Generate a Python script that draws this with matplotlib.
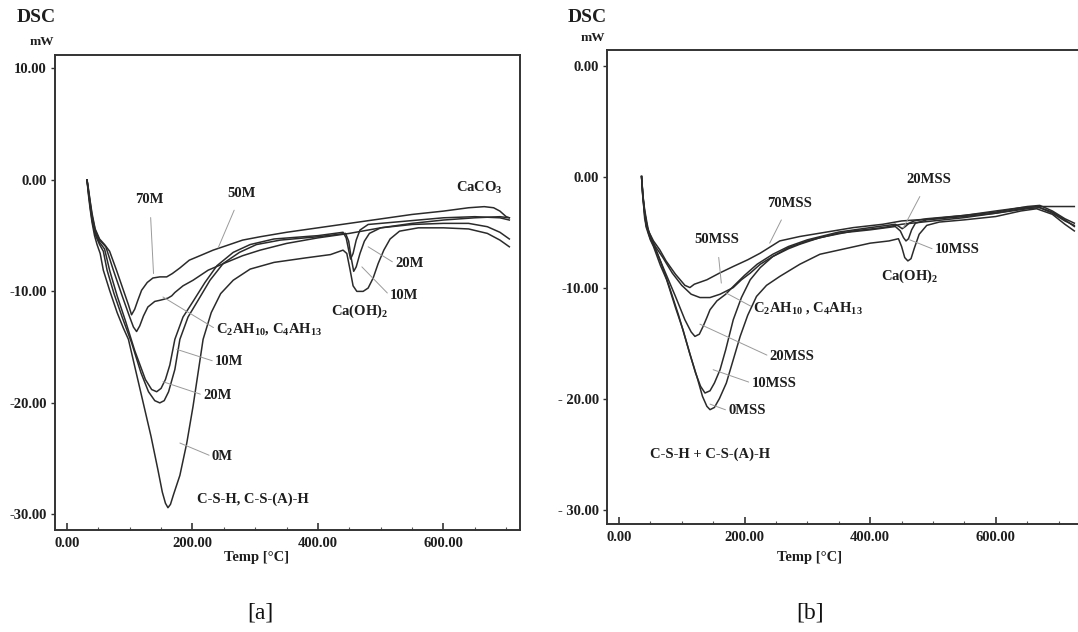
import matplotlib
matplotlib.use("Agg")
import matplotlib.pyplot as plt
from matplotlib.ticker import FixedLocator, MultipleLocator

plt.rcParams['font.family'] = ['Liberation Serif', 'DejaVu Serif']
plt.rcParams['font.weight'] = 'bold'
plt.rcParams['mathtext.fontset'] = 'custom'
plt.rcParams['mathtext.rm'] = 'Liberation Serif:bold'
plt.rcParams['mathtext.it'] = 'Liberation Serif:bold'
plt.rcParams['mathtext.bf'] = 'Liberation Serif:bold'

# ---------------- panel [a] : temperature (C), heat flow (mW) ----------------
t_0M = [32, 34, 37, 40, 44, 48, 53, 58, 68, 80, 90, 98, 110, 122, 134, 145, 152, 157, 161, 165, 170,
        180, 191, 201, 217, 230, 245, 265, 292, 330, 380, 420, 440, 446, 451, 456, 462, 472, 480,
        488, 496, 505, 515, 530, 560, 600, 640, 670, 690, 705]
dsc_0M = [0, -1.2, -2.6, -3.8, -5.0, -5.8, -6.6, -8.1, -9.9, -11.9, -13.3, -14.3, -17.2, -20.1, -23.0,
          -26.0, -28.0, -29.0, -29.4, -29.1, -28.2, -26.5, -23.6, -20.3, -14.3, -11.9, -10.2, -9.0,
          -8.0, -7.4, -7.0, -6.7, -6.3, -6.6, -8.0, -9.5, -10.0, -10.0, -9.7, -8.8, -7.5, -6.3, -5.3,
          -4.6, -4.3, -4.3, -4.4, -4.8, -5.4, -6.0]

t_10M = [32, 34, 37, 40, 45, 52, 58, 64, 75, 88, 103, 118, 130, 140, 148, 155, 162, 168, 172, 180,
         193, 209, 228, 249, 275, 302, 340, 400, 430, 444, 449, 453, 457, 461, 467, 474, 482, 500,
         550, 600, 640, 670, 690, 705]
dsc_10M = [0, -1.0, -2.4, -3.6, -4.9, -5.8, -6.4, -8.1, -10.2, -12.3, -14.6, -17.3, -19.0, -19.8, -20.0,
           -19.8, -19.0, -17.8, -17.0, -14.3, -12.3, -10.8, -9.0, -7.5, -6.5, -5.8, -5.4, -5.1, -4.9,
           -4.8, -5.5, -7.0, -8.2, -7.8, -6.6, -5.5, -4.8, -4.3, -4.0, -3.9, -3.9, -4.2, -4.7, -5.3]

t_20M = [32, 34, 37, 40, 45, 52, 60, 68, 80, 93, 108, 125, 135, 143, 150, 157, 164, 172, 185, 201,
         220, 239, 265, 292, 330, 400, 440, 445, 449, 452, 456, 461, 467, 480, 520, 560, 600, 650,
         690, 705]
dsc_20M = [0, -0.9, -2.2, -3.4, -4.7, -5.6, -6.2, -8.1, -10.4, -12.6, -15.3, -17.9, -18.8, -19.0, -18.7,
           -17.9, -16.6, -14.3, -12.3, -10.9, -9.2, -7.7, -6.5, -5.8, -5.3, -5.0, -4.7, -5.2, -6.3,
           -7.1, -6.6, -5.4, -4.5, -4.0, -3.8, -3.6, -3.4, -3.3, -3.4, -3.6]

t_50M = [32, 34, 37, 40, 45, 52, 62, 74, 88, 100, 106, 111, 116, 122, 129, 140, 148, 155, 161, 167,
         172, 185, 201, 225, 254, 280, 308, 350, 400, 450, 500, 550, 600, 650, 690, 705]
dsc_50M = [0, -0.8, -2.0, -3.2, -4.5, -5.4, -6.0, -8.1, -10.4, -12.3, -13.2, -13.6, -13.1, -12.2, -11.4,
           -10.9, -10.8, -10.7, -10.6, -10.4, -10.1, -9.5, -9.0, -8.1, -7.4, -6.8, -6.3, -5.7, -5.2,
           -4.8, -4.3, -3.9, -3.6, -3.4, -3.3, -3.4]

t_70M = [32, 34, 37, 40, 45, 52, 60, 68, 79, 90, 98, 103, 108, 113, 119, 128, 137, 148, 159, 168,
         180, 195, 212, 233, 254, 280, 308, 350, 400, 450, 500, 550, 600, 640, 665, 680, 690, 700, 705]
dsc_70M = [0, -0.7, -1.9, -3.0, -4.4, -5.3, -5.8, -6.4, -8.1, -9.9, -11.2, -12.1, -11.6, -10.8, -9.9,
           -9.2, -8.8, -8.7, -8.7, -8.4, -7.9, -7.2, -6.8, -6.3, -5.9, -5.4, -5.1, -4.7, -4.3, -3.9,
           -3.5, -3.1, -2.8, -2.5, -2.4, -2.5, -2.8, -3.3, -3.4]

# ---------------- panel [b] ----------------
t_0MSS = [36, 38, 40, 43, 50, 55, 66, 76, 90, 102, 113, 124, 133, 140, 145, 152, 160, 171, 182, 193,
          205, 219, 235, 256, 288, 320, 360, 400, 430, 445, 450, 455, 460, 465, 470, 478, 490, 510,
          550, 600, 640, 665, 690, 710, 725]
dsc_0MSS = [0, -1.8, -3.0, -4.5, -5.7, -6.3, -8.0, -9.3, -11.8, -13.8, -16.0, -18.0, -19.8, -20.7, -21.0,
            -20.8, -20.0, -18.6, -16.5, -14.4, -12.5, -10.8, -9.8, -9.0, -7.9, -7.0, -6.5, -6.0, -5.8,
            -5.6, -6.3, -7.3, -7.6, -7.4, -6.5, -5.2, -4.4, -4.1, -3.9, -3.6, -3.1, -2.9, -3.4, -4.3, -4.9]

t_10MSS = [36, 38, 41, 45, 55, 66, 80, 95, 110, 122, 130, 137, 145, 152, 161, 170, 182, 195, 209, 225,
           245, 270, 300, 350, 400, 440, 448, 453, 457, 461, 466, 472, 490, 550, 600, 640, 665, 690,
           710, 725]
dsc_10MSS = [0, -1.8, -3.2, -4.6, -6.0, -7.6, -9.9, -12.5, -15.4, -17.7, -18.9, -19.5, -19.3, -18.6,
             -17.4, -15.6, -12.9, -10.9, -9.3, -8.2, -7.2, -6.4, -5.8, -5.1, -4.8, -4.5, -4.9, -5.5,
             -5.8, -5.6, -4.8, -4.2, -3.9, -3.6, -3.3, -2.9, -2.7, -3.2, -3.9, -4.5]

t_20MSS = [36, 38, 41, 45, 50, 60, 75, 90, 105, 115, 121, 128, 134, 140, 145, 156, 170, 182, 200, 220,
           245, 270, 300, 350, 400, 440, 446, 451, 456, 462, 470, 490, 550, 600, 650, 670, 690, 710, 725]
dsc_20MSS = [0, -1.7, -3.0, -4.3, -5.6, -6.8, -8.8, -10.8, -12.9, -14.0, -14.4, -14.2, -13.5, -12.7,
             -12.0, -11.2, -10.6, -9.9, -8.9, -7.9, -7.0, -6.3, -5.7, -5.0, -4.6, -4.3, -4.5, -4.7,
             -4.5, -4.2, -4.0, -3.8, -3.5, -3.2, -2.7, -2.6, -3.1, -3.8, -4.2]

t_50MSS = [36, 38, 41, 48, 58, 70, 85, 100, 115, 129, 145, 161, 182, 195, 209, 225, 245, 270, 288, 320,
           373, 420, 450, 500, 550, 600, 650, 670, 690, 710, 725]
dsc_50MSS = [0, -1.6, -3.8, -5.3, -6.3, -7.3, -8.7, -9.8, -10.6, -10.9, -10.9, -10.6, -10.0, -9.3, -8.7,
             -7.9, -7.2, -6.5, -6.1, -5.5, -4.9, -4.6, -4.3, -4.0, -3.7, -3.3, -2.9, -2.8, -3.3, -4.0,
             -4.4]

t_70MSS = [36, 38, 41, 46, 55, 65, 75, 90, 105, 113, 120, 140, 160, 182, 205, 225, 256, 288, 320, 373,
           420, 450, 500, 550, 600, 640, 670, 700, 725]
dsc_70MSS = [0, -1.5, -3.3, -4.8, -5.8, -6.6, -7.6, -8.8, -9.8, -10.0, -9.7, -9.3, -8.7, -8.1, -7.5,
             -6.9, -5.8, -5.4, -5.1, -4.6, -4.3, -4.0, -3.8, -3.5, -3.1, -2.8, -2.7, -2.7, -2.7]

yticks = [10, 0, -10, -20, -30]
ylabels_a = ['10.00', '0.00', '-10.00', '-20.00', '-30.00']
ylabels_b = ['0.00', '0.00', '-10.00', '- 20.00', '- 30.00']
xticks = [0, 200, 400, 600]
xlabels = ['0.00', '200.00', '400.00', '600.00']

line_c = '#2b2b2b'
lead_c = '#9a9a9a'
txt_c = '#1e1e1e'

fig = plt.figure(figsize=(10.78, 6.32), dpi=100)
ax_a = fig.add_axes([55 / 1078, 1 - 530 / 632, 465 / 1078, 475 / 632])
ax_b = fig.add_axes([607 / 1078, 1 - 524 / 632, 478 / 1078, 474 / 632])


def style(ax, xlim, ylim, ylabels):
    ax.set_xlim(*xlim)
    ax.set_ylim(*ylim)
    for s in ax.spines.values():
        s.set_linewidth(1.4)
        s.set_color('#333333')
    ax.yaxis.set_major_locator(FixedLocator(yticks))
    ax.set_yticklabels(ylabels)
    ax.xaxis.set_major_locator(FixedLocator(xticks))
    ax.set_xticklabels(xlabels)
    ax.xaxis.set_minor_locator(MultipleLocator(50))
    ax.tick_params(axis='y', direction='out', length=3, width=1, pad=3,
                   labelsize=10.5, colors='#333333', labelcolor=txt_c)
    ax.tick_params(axis='x', which='major', direction='in', length=5, width=1.2,
                   pad=5, labelsize=10.5, colors='#333333', labelcolor=txt_c)
    ax.tick_params(axis='x', which='minor', direction='in', length=2.5, width=0.8, colors='#555555')
    for lab in ax.get_xticklabels() + ax.get_yticklabels():
        lab.set_fontweight('bold')


def tag(ax, text, xy, xytext, ha='center'):
    ax.annotate(text, xy=xy, xytext=xytext, ha=ha, va='center', fontsize=10.5,
                fontweight='bold', color=txt_c,
                arrowprops=dict(arrowstyle='-', color=lead_c, lw=0.7, shrinkA=0, shrinkB=0,
                                relpos=(0, 0.5) if ha == 'left' else (0.5, 0)))


# panel a
for t, d in [(t_0M, dsc_0M), (t_10M, dsc_10M), (t_20M, dsc_20M), (t_50M, dsc_50M), (t_70M, dsc_70M)]:
    ax_a.plot(t, d, color=line_c, lw=1.1)
style(ax_a, (-19, 722), (-31.4, 11.2), ylabels_a)

ax_a.annotate('70M', xy=(138, -8.4), xytext=(132, -1.8), ha='center', va='center', fontsize=10.5,
              fontweight='bold', color=txt_c,
              arrowprops=dict(arrowstyle='-', color=lead_c, lw=0.7, shrinkA=6, shrinkB=0))
ax_a.annotate('50M', xy=(241, -6.1), xytext=(278, -1.2), ha='center', va='center', fontsize=10.5,
              fontweight='bold', color=txt_c,
              arrowprops=dict(arrowstyle='-', color=lead_c, lw=0.7, shrinkA=6, shrinkB=0))
tag(ax_a, '20M', (480, -6.0), (523, -7.5), ha='left')
tag(ax_a, '10M', (470, -7.8), (515, -10.4), ha='left')
tag(ax_a, 'C$_2$AH$_{10}$, C$_4$AH$_{13}$', (153, -10.5), (238, -13.4), ha='left')
tag(ax_a, '10M', (175, -15.2), (236, -16.3), ha='left')
tag(ax_a, '20M', (153, -18.1), (217, -19.3), ha='left')
tag(ax_a, '0M', (180, -23.6), (231, -24.8), ha='left')
ax_a.text(658, -0.7, 'CaCO$_3$', ha='center', va='center', fontsize=10.5, fontweight='bold', color=txt_c)
ax_a.text(467, -11.8, 'Ca(OH)$_2$', ha='center', va='center', fontsize=10.5, fontweight='bold', color=txt_c)
ax_a.text(297, -28.6, 'C-S-H, C-S-(A)-H', ha='center', va='center', fontsize=10.5, fontweight='bold',
          color=txt_c)

# panel b
for t, d in [(t_0MSS, dsc_0MSS), (t_10MSS, dsc_10MSS), (t_20MSS, dsc_20MSS),
             (t_50MSS, dsc_50MSS), (t_70MSS, dsc_70MSS)]:
    ax_b.plot(t, d, color=line_c, lw=1.1)
style(ax_b, (-19, 742), (-31.3, 11.4), ylabels_b)

ax_b.annotate('20MSS', xy=(453, -4.6), xytext=(493, -0.3), ha='center', va='center', fontsize=10.5,
              fontweight='bold', color=txt_c,
              arrowprops=dict(arrowstyle='-', color=lead_c, lw=0.7, shrinkA=6, shrinkB=0))
ax_b.annotate('70MSS', xy=(240, -6.0), xytext=(272, -2.4), ha='center', va='center', fontsize=10.5,
              fontweight='bold', color=txt_c,
              arrowprops=dict(arrowstyle='-', color=lead_c, lw=0.7, shrinkA=6, shrinkB=0))
ax_b.annotate('50MSS', xy=(163, -9.6), xytext=(156, -5.7), ha='center', va='center', fontsize=10.5,
              fontweight='bold', color=txt_c,
              arrowprops=dict(arrowstyle='-', color=lead_c, lw=0.7, shrinkA=6, shrinkB=0))
tag(ax_b, '10MSS', (463, -5.7), (503, -6.6), ha='left')
tag(ax_b, 'C$_2$AH$_{10}$ , C$_4$AH$_{13}$', (171, -10.5), (214, -11.8), ha='left')
tag(ax_b, '20MSS', (129, -13.3), (240, -16.2), ha='left')
tag(ax_b, '10MSS', (150, -17.4), (211, -18.6), ha='left')
tag(ax_b, '0MSS', (145, -20.5), (174, -21.1), ha='left')
ax_b.text(463, -9.0, 'Ca(OH)$_2$', ha='center', va='center', fontsize=10.5, fontweight='bold', color=txt_c)
ax_b.text(145, -25.0, 'C-S-H + C-S-(A)-H', ha='center', va='center', fontsize=10.5, fontweight='bold',
          color=txt_c)

# headers, axis titles and captions
fig.text(36 / 1078, 1 - 17 / 632, 'DSC', ha='center', va='center', fontsize=14, fontweight='bold', color=txt_c)
fig.text(42 / 1078, 1 - 42 / 632, 'mW', ha='center', va='center', fontsize=9.5, fontweight='bold', color=txt_c)
fig.text(587 / 1078, 1 - 17 / 632, 'DSC', ha='center', va='center', fontsize=14, fontweight='bold', color=txt_c)
fig.text(593 / 1078, 1 - 38 / 632, 'mW', ha='center', va='center', fontsize=9.5, fontweight='bold', color=txt_c)
fig.text(257 / 1078, 1 - 557 / 632, 'Temp [°C]', ha='center', va='center', fontsize=10.5, fontweight='bold', color=txt_c)
fig.text(810 / 1078, 1 - 557 / 632, 'Temp [°C]', ha='center', va='center', fontsize=10.5, fontweight='bold', color=txt_c)
fig.text(260 / 1078, 1 - 613 / 632, '[a]', ha='center', va='center', fontsize=17, fontweight='normal', color='#111111')
fig.text(810 / 1078, 1 - 613 / 632, '[b]', ha='center', va='center', fontsize=17, fontweight='normal', color='#111111')

fig.savefig('out.png', dpi=100)
